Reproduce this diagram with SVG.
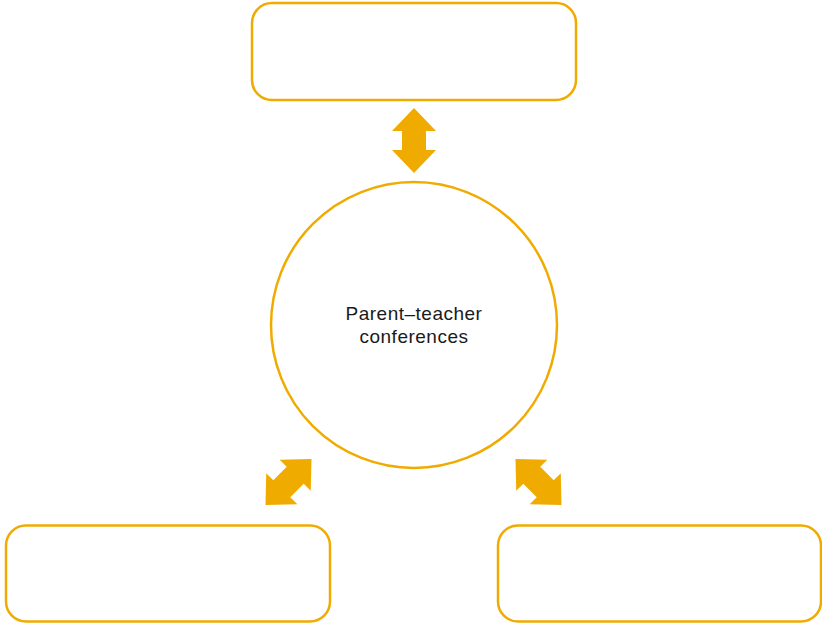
<svg xmlns="http://www.w3.org/2000/svg" width="822" height="623" viewBox="0 0 822 623">
<defs>
<style>
.box{fill:#fff;stroke:#F0AB00;stroke-width:2.5}
.arr{fill:#F0AB00}
.lbl{font-family:"Liberation Sans",Arial,sans-serif;font-size:19px;fill:#1a1a1a;text-anchor:middle;letter-spacing:0.5px}
</style>
<path id="dbl" d="M0,-32.5 L22,-9.5 L12,-9.5 L12,9.5 L22,9.5 L0,32.5 L-22,9.5 L-12,9.5 L-12,-9.5 L-22,-9.5 Z"/>
</defs>
<rect width="822" height="623" fill="#fff"/>
<g id="top-box"><rect class="box" x="252" y="3" width="324" height="97" rx="20"/></g>
<g id="left-box"><rect class="box" x="6" y="525.5" width="324" height="96" rx="20"/></g>
<g id="right-box"><rect class="box" x="498" y="525.5" width="323" height="96" rx="20"/></g>
<g id="center">
<circle class="box" cx="414" cy="325" r="143"/>
<text class="lbl" x="414" y="320">Parent–teacher</text>
<text class="lbl" x="414" y="342.5">conferences</text>
</g>
<g id="connectors">
<use href="#dbl" class="arr" transform="translate(414,140.5)"/>
<use href="#dbl" class="arr" transform="translate(288.5,482) rotate(45)"/>
<use href="#dbl" class="arr" transform="translate(538.5,482) rotate(-45)"/>
</g>
</svg>
